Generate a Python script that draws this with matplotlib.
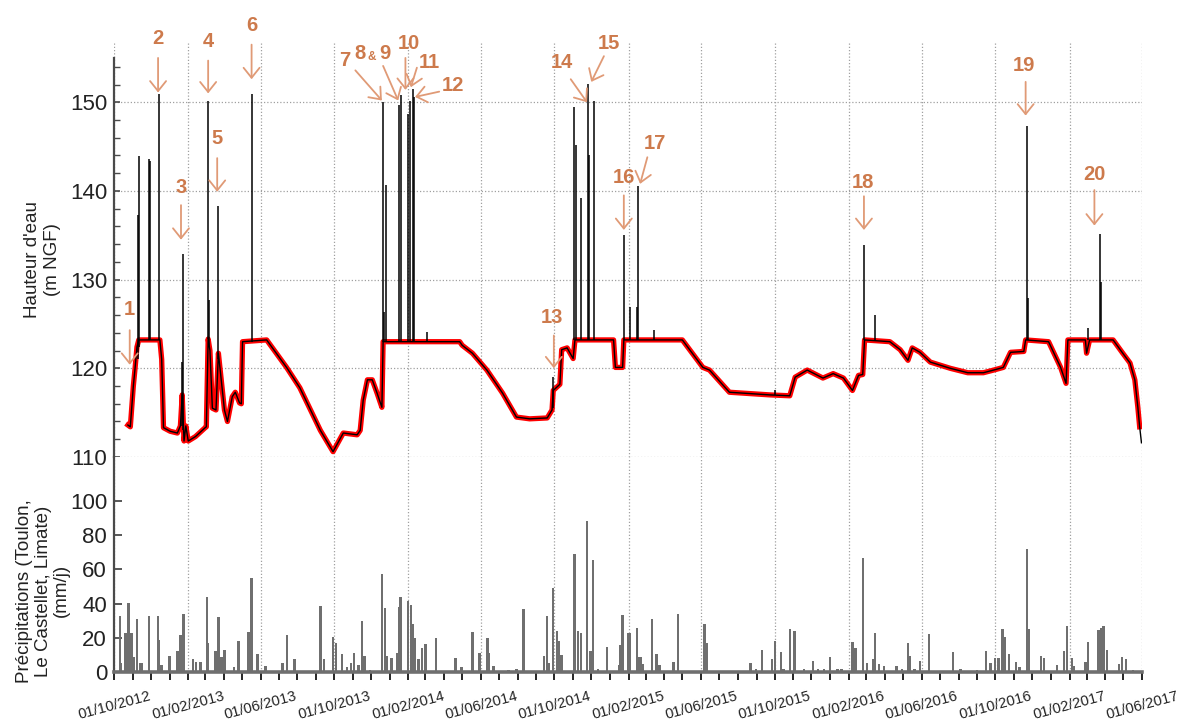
import matplotlib
matplotlib.use('Agg')
import matplotlib.pyplot as plt
import matplotlib.dates as mdates
from matplotlib.ticker import FixedLocator
import pandas as pd

plt.rcParams['font.family'] = ['Liberation Sans', 'DejaVu Sans']

# niveau filtre (courbe rouge)
niveau_dates = ["2012-10-24", "2012-10-28", "2012-11-02", "2012-11-05", "2012-11-08", "2012-11-11",
                "2012-12-16", "2012-12-19", "2012-12-22", "2013-01-02", "2013-01-14", "2013-01-19",
                "2013-01-22", "2013-01-25", "2013-01-28", "2013-02-01", "2013-02-13", "2013-03-01",
                "2013-03-03", "2013-03-06", "2013-03-09", "2013-03-13", "2013-03-19", "2013-03-23",
                "2013-03-28", "2013-04-02", "2013-04-07", "2013-04-15", "2013-04-20", "2013-04-27",
                "2013-04-30", "2013-05-02", "2013-06-11", "2013-07-14", "2013-08-05", "2013-09-08",
                "2013-09-29", "2013-10-16", "2013-11-08", "2013-11-13", "2013-11-18", "2013-11-25",
                "2013-12-03", "2013-12-11", "2013-12-19", "2013-12-21", "2014-04-27", "2014-05-01",
                "2014-05-18", "2014-06-11", "2014-07-07", "2014-07-30", "2014-08-21", "2014-09-19",
                "2014-09-27", "2014-09-29", "2014-10-10", "2014-10-13", "2014-10-22", "2014-11-01",
                "2014-11-04", "2015-01-07", "2015-01-10", "2015-01-22", "2015-01-24", "2015-05-01",
                "2015-06-04", "2015-06-15", "2015-07-18", "2015-09-23", "2015-10-26", "2015-11-04",
                "2015-11-24", "2015-12-20", "2016-01-06", "2016-01-23", "2016-02-07", "2016-02-17",
                "2016-02-24", "2016-02-27", "2016-04-09", "2016-04-26", "2016-05-09", "2016-05-16",
                "2016-05-29", "2016-06-15", "2016-07-18", "2016-08-16", "2016-09-11", "2016-09-28",
                "2016-10-14", "2016-10-26", "2016-11-17", "2016-11-20", "2016-12-28", "2017-01-17",
                "2017-01-26", "2017-01-29", "2017-02-27", "2017-03-01", "2017-03-06", "2017-04-14",
                "2017-04-30", "2017-05-12", "2017-05-20", "2017-05-25", "2017-05-28"]
niveau_vals = [113.6, 113.4, 118.0, 120.1, 122.4, 123.2,
               123.2, 121.0, 113.3, 112.9, 112.7, 113.5,
               117.0, 111.8, 113.5, 111.8, 112.3, 113.3,
               113.4, 123.3, 122.0, 115.5, 115.3, 121.7,
               118.5, 115.3, 114.0, 116.8, 117.3, 116.1,
               116.0, 123.0, 123.2, 120.1, 117.8, 113.0,
               110.6, 112.7, 112.5, 113.0, 116.4, 118.7,
               118.7, 117.2, 115.6, 123.0, 123.0, 122.6,
               121.7, 119.8, 117.2, 114.5, 114.3, 114.4,
               115.3, 117.5, 118.2, 122.1, 122.3, 121.1,
               123.2, 123.2, 120.1, 120.1, 123.2, 123.2,
               120.1, 119.8, 117.3, 117.0, 116.9, 119.0,
               119.8, 118.9, 119.4, 118.9, 117.5, 119.2,
               119.3, 123.2, 123.0, 122.1, 120.9, 122.3,
               121.8, 120.7, 120.0, 119.5, 119.5, 119.8,
               120.1, 121.8, 121.9, 123.2, 123.0, 120.1,
               118.3, 123.2, 123.2, 121.7, 123.2, 123.2,
               121.7, 120.6, 118.7, 115.6, 113.4]
brut_fin_date = "2017-05-31"
brut_fin_val = 111.6

# pics du signal brut (courbe noire)
pic_dates = ["2012-11-10", "2012-11-12", "2012-11-28", "2012-11-30", "2012-12-14", "2013-01-22",
             "2013-01-24", "2013-03-06", "2013-03-08", "2013-03-23", "2013-05-18", "2013-12-21",
             "2013-12-23", "2013-12-26", "2014-01-17", "2014-01-20", "2014-01-31", "2014-02-03",
             "2014-02-08", "2014-02-11", "2014-03-03", "2014-09-29", "2014-11-03", "2014-11-06",
             "2014-11-14", "2014-11-26", "2014-11-27", "2014-12-06", "2015-01-24", "2015-02-04",
             "2015-02-15", "2015-02-17", "2015-03-15", "2015-10-02", "2016-02-26", "2016-03-15",
             "2016-11-22", "2016-11-24", "2017-03-03", "2017-03-23", "2017-03-25"]
pic_base = [121.0, 122.4, 123.2, 123.2, 123.2, 113.5,
            113.0, 123.3, 122.5, 121.0, 123.0, 123.0,
            123.0, 123.0, 123.0, 123.0, 123.0, 123.0,
            123.0, 123.0, 123.0, 115.5, 123.2, 123.2,
            123.2, 123.2, 123.2, 123.2, 123.2, 123.2,
            123.2, 123.2, 123.2, 117.0, 123.2, 123.2,
            123.2, 123.2, 123.2, 123.2, 123.2]
pic_vals = [137.3, 143.9, 143.6, 143.4, 150.9, 120.7,
            132.9, 150.2, 127.7, 138.3, 150.9, 150.0,
            126.3, 140.7, 149.7, 150.8, 148.7, 150.2,
            151.5, 150.6, 124.1, 119.0, 149.5, 145.2,
            139.2, 152.1, 144.1, 150.2, 135.0, 126.9,
            126.9, 140.6, 124.3, 117.6, 133.9, 126.0,
            147.3, 127.9, 124.5, 135.2, 129.7]

# precipitations journalieres (mm/j)
pluie_dates = ["2012-10-11", "2012-10-12", "2012-10-20", "2012-10-25", "2012-10-30", "2012-11-02",
               "2012-11-08", "2012-11-13", "2012-11-16", "2012-11-28", "2012-12-13", "2012-12-14",
               "2012-12-19", "2013-01-01", "2013-01-14", "2013-01-19", "2013-01-24", "2013-02-09",
               "2013-02-14", "2013-02-21", "2013-03-04", "2013-03-06", "2013-03-18", "2013-03-23",
               "2013-03-28", "2013-04-02", "2013-04-18", "2013-04-25", "2013-05-12", "2013-05-17",
               "2013-05-27", "2013-06-09", "2013-07-07", "2013-07-15", "2013-07-27", "2013-09-08",
               "2013-09-14", "2013-09-29", "2013-10-04", "2013-10-14", "2013-10-22", "2013-10-29",
               "2013-11-03", "2013-11-10", "2013-11-16", "2013-11-20", "2013-11-29", "2013-12-19",
               "2013-12-24", "2013-12-27", "2014-01-04", "2014-01-14", "2014-01-16", "2014-01-19",
               "2014-01-31", "2014-02-05", "2014-02-09", "2014-02-12", "2014-02-18", "2014-02-23",
               "2014-03-01", "2014-03-19", "2014-04-20", "2014-04-30", "2014-05-18", "2014-05-30",
               "2014-06-12", "2014-06-15", "2014-06-22", "2014-07-17", "2014-07-30", "2014-08-11",
               "2014-09-14", "2014-09-19", "2014-09-22", "2014-09-29", "2014-10-05", "2014-10-08",
               "2014-10-13", "2014-11-03", "2014-11-09", "2014-11-14", "2014-11-24", "2014-11-30",
               "2014-12-04", "2014-12-12", "2014-12-27", "2015-01-17", "2015-01-18", "2015-01-22",
               "2015-01-31", "2015-02-03", "2015-02-15", "2015-02-19", "2015-02-21", "2015-02-24",
               "2015-03-12", "2015-03-19", "2015-03-24", "2015-04-16", "2015-04-24", "2015-06-07",
               "2015-06-10", "2015-08-22", "2015-08-31", "2015-09-10", "2015-09-27", "2015-10-02",
               "2015-10-12", "2015-10-16", "2015-10-26", "2015-11-03", "2015-11-19", "2015-12-04",
               "2015-12-12", "2015-12-22", "2016-01-01", "2016-01-13", "2016-01-20", "2016-02-07",
               "2016-02-12", "2016-02-24", "2016-03-02", "2016-03-12", "2016-03-15", "2016-03-22",
               "2016-03-30", "2016-04-20", "2016-04-29", "2016-05-09", "2016-05-12", "2016-05-20",
               "2016-05-29", "2016-06-13", "2016-07-23", "2016-08-04", "2016-08-31", "2016-09-15",
               "2016-09-23", "2016-09-30", "2016-10-06", "2016-10-13", "2016-10-16", "2016-10-23",
               "2016-11-04", "2016-11-10", "2016-11-22", "2016-11-25", "2016-12-15", "2016-12-20",
               "2017-01-11", "2017-01-23", "2017-01-28", "2017-02-05", "2017-02-08", "2017-02-27",
               "2017-03-03", "2017-03-21", "2017-03-26", "2017-03-29", "2017-04-04", "2017-04-24",
               "2017-04-29", "2017-05-05", "2017-05-17"]
pluie_mm = [32.8, 5.5, 22.7, 40.6, 23.0, 9.0,
            30.9, 5.0, 5.0, 33.0, 33.0, 18.8,
            4.0, 9.6, 12.0, 21.7, 33.8, 7.4,
            6.0, 6.0, 43.8, 17.0, 12.0, 32.4,
            9.0, 13.0, 3.0, 18.4, 23.6, 54.9,
            10.4, 3.5, 5.0, 21.5, 7.4, 38.7,
            7.4, 20.3, 17.2, 10.5, 3.0, 5.0,
            11.0, 4.0, 29.9, 9.6, 1.0, 57.2,
            37.3, 9.4, 8.4, 11.3, 37.9, 43.8,
            41.6, 39.3, 28.0, 19.7, 7.6, 14.3,
            16.4, 20.1, 8.0, 3.0, 23.2, 11.0,
            19.7, 11.0, 3.7, 1.0, 1.5, 36.7,
            9.4, 33.0, 5.0, 49.0, 24.2, 18.2,
            10.0, 69.1, 24.2, 22.7, 88.1, 12.0,
            65.2, 1.5, 14.5, 4.0, 15.6, 33.2,
            22.7, 22.7, 26.0, 8.6, 8.6, 4.5,
            30.9, 10.5, 4.0, 5.9, 34.0, 28.0,
            17.2, 5.5, 1.5, 12.9, 7.4, 18.4,
            11.5, 1.5, 25.2, 24.0, 2.0, 6.6,
            1.5, 2.0, 9.0, 1.5, 1.5, 17.8,
            14.3, 66.6, 5.5, 7.4, 22.7, 4.7,
            3.7, 3.7, 1.5, 16.8, 9.6, 2.0,
            6.4, 22.3, 11.5, 1.5, 1.0, 12.5,
            5.5, 8.4, 8.4, 25.0, 20.3, 10.4,
            6.0, 3.0, 71.9, 25.0, 9.6, 8.0,
            4.0, 12.5, 27.0, 8.4, 3.5, 6.0,
            17.8, 24.6, 25.6, 27.0, 12.9, 4.7,
            9.0, 7.6, 1.0]

# numero, position du texte, depart et pointe de la fleche
fleches = [
    ("1", "2012-10-27", 126.6, "2012-10-27", 124.3, "2012-10-27", 120.4),
    ("2", "2012-12-13", 157.2, "2012-12-13", 155.0, "2012-12-13", 151.1),
    ("3", "2013-01-20", 140.4, "2013-01-20", 138.4, "2013-01-20", 134.5),
    ("4", "2013-03-06", 156.9, "2013-03-06", 154.7, "2013-03-06", 151.0),
    ("5", "2013-03-21", 145.9, "2013-03-21", 143.7, "2013-03-21", 139.9),
    ("6", "2013-05-17", 158.7, "2013-05-17", 156.5, "2013-05-17", 152.6),
    ("7", "2013-10-19", 154.7, "2013-11-05", 153.6, "2013-12-19", 150.2),
    ("8&9", "2013-12-03", 155.5, "2013-12-21", 154.1, "2014-01-15", 150.2),
    ("10", "2014-02-01", 156.6, "2014-01-27", 155.0, "2014-01-27", 151.4),
    ("11", "2014-03-07", 154.5, "2014-02-15", 153.9, "2014-02-05", 151.7),
    ("12", "2014-04-15", 151.9, "2014-03-24", 151.2, "2014-02-12", 150.6),
    ("13", "2014-09-27", 125.7, "2014-09-30", 123.7, "2014-09-30", 120.0),
    ("14", "2014-10-13", 154.5, "2014-10-28", 152.6, "2014-11-24", 150.0),
    ("15", "2014-12-31", 156.6, "2014-12-22", 155.2, "2014-12-01", 152.3),
    ("16", "2015-01-24", 141.5, "2015-01-24", 139.5, "2015-01-24", 135.6),
    ("17", "2015-03-17", 145.3, "2015-03-04", 143.8, "2015-02-20", 140.8),
    ("18", "2016-02-24", 141.0, "2016-02-26", 139.4, "2016-02-26", 135.6),
    ("19", "2016-11-17", 154.2, "2016-11-20", 152.3, "2016-11-20", 148.5),
    ("20", "2017-03-14", 141.9, "2017-03-14", 140.1, "2017-03-14", 136.1),
]

ORANGE = '#cd7a4c'
ORANGE_FL = '#e09a76'
GRIS = '#6f6f6f'
GRILLE = dict(color='#a0a0a0', linestyle=(0, (1, 1.6)), linewidth=0.9)

d_niv = pd.to_datetime(niveau_dates)
d_pic = pd.to_datetime(pic_dates)
d_pluie = pd.to_datetime(pluie_dates)
x0, x1 = pd.Timestamp('2012-10-01'), pd.Timestamp('2017-06-01')

fig = plt.figure(figsize=(11.78, 7.25), dpi=100)
ax1 = fig.add_axes([0.0968, 0.3697, 0.8727, 0.5724])
ax2 = fig.add_axes([0.0968, 0.0731, 0.8727, 0.2966])

# --- niveau d'eau ---
ax1.plot(d_niv, niveau_vals, color='red', lw=3.8, solid_joinstyle='round', zorder=2)
ax1.plot(list(d_niv) + [pd.Timestamp(brut_fin_date)], niveau_vals + [brut_fin_val],
         color='black', lw=1.0, zorder=3)
ax1.vlines(d_pic, pic_base, pic_vals, color='black', lw=1.1, zorder=3)

ax1.set_xlim(x0, x1)
ax1.set_ylim(110, 156.8)
ax1.yaxis.set_major_locator(FixedLocator([110, 120, 130, 140, 150]))
ax1.yaxis.set_minor_locator(FixedLocator(list(range(110, 156, 2))))
ax1.xaxis.set_major_locator(mdates.MonthLocator(bymonth=[2, 6, 10]))
ax1.grid(True, which='major', **GRILLE)
for s in ['top', 'right', 'bottom']:
    ax1.spines[s].set_visible(False)
ax1.spines['left'].set_bounds(110, 155)
ax1.spines['left'].set_color('#4a4a4a')
ax1.spines['left'].set_linewidth(1.6)
ax1.tick_params(axis='x', length=0, labelbottom=False)
ax1.tick_params(axis='y', which='major', direction='in', length=4.5, width=1.2,
                color='#4a4a4a', labelsize=16, labelcolor='#222222', pad=5)
ax1.tick_params(axis='y', which='minor', direction='in', length=4, width=1.0, color='#4a4a4a')
ax1.set_ylabel("Hauteur d'eau\n(m NGF)", fontsize=13.5, color='#222222')
ax1.yaxis.set_label_coords(-0.052, 0.475)

for lab, tx, ty, ax_, ay_, hx, hy in fleches:
    ax1.annotate('', xy=(pd.Timestamp(hx), hy), xytext=(pd.Timestamp(ax_), ay_),
                 arrowprops=dict(arrowstyle='->,head_length=0.4,head_width=0.32',
                                 color=ORANGE_FL, lw=1.3, shrinkA=0, shrinkB=0,
                                 mutation_scale=18), zorder=4)
    if lab == "8&9":
        for part, dx, dy, fs in [("8", -9, 0, 14.5), ("&", 0, -2.5, 8.5), ("9", 9, 0, 14.5)]:
            ax1.annotate(part, xy=(pd.Timestamp(tx), ty), xytext=(dx, dy),
                         textcoords='offset points', ha='center', va='center',
                         fontsize=fs, fontweight='bold', color=ORANGE, annotation_clip=False)
    else:
        ax1.text(pd.Timestamp(tx), ty, lab, ha='center', va='center', fontsize=14.5,
                 fontweight='bold', color=ORANGE, clip_on=False)

# --- precipitations ---
ax2.bar(d_pluie, pluie_mm, width=4, color=GRIS, linewidth=0, zorder=2)
ax2.set_xlim(x0, x1)
ax2.set_ylim(0, 125.7)
ax2.set_yticks([0, 20, 40, 60, 80, 100])
ax2.xaxis.set_major_locator(mdates.MonthLocator(bymonth=[2, 6, 10]))
ax2.xaxis.set_minor_locator(mdates.MonthLocator())
ax2.xaxis.set_major_formatter(mdates.DateFormatter('%d/%m/%Y'))
ax2.grid(True, axis='x', which='major', **GRILLE)
for s in ['top', 'right']:
    ax2.spines[s].set_visible(False)
ax2.spines['bottom'].set_color(GRIS)
ax2.spines['bottom'].set_linewidth(2.6)
ax2.spines['left'].set_color('#4a4a4a')
ax2.spines['left'].set_linewidth(1.6)
ax2.tick_params(axis='y', direction='in', length=6, width=1.3, color='#4a4a4a',
                labelsize=16, labelcolor='#222222', pad=5)
ax2.tick_params(axis='x', which='both', direction='out', length=6, width=1.2,
                color='black')
ax2.tick_params(axis='x', which='major', labelsize=10.6, labelcolor='#222222', pad=6)
for t in ax2.get_xticklabels():
    t.set_rotation(15)
    t.set_ha('center')
ax2.set_ylabel("Précipitations (Toulon,\nLe Castellet, Limate)\n(mm/j)", fontsize=13.5,
               color='#222222', linespacing=1.1)
ax2.yaxis.set_label_coords(-0.043, 0.377)

fig.savefig('out.png', dpi=100)
